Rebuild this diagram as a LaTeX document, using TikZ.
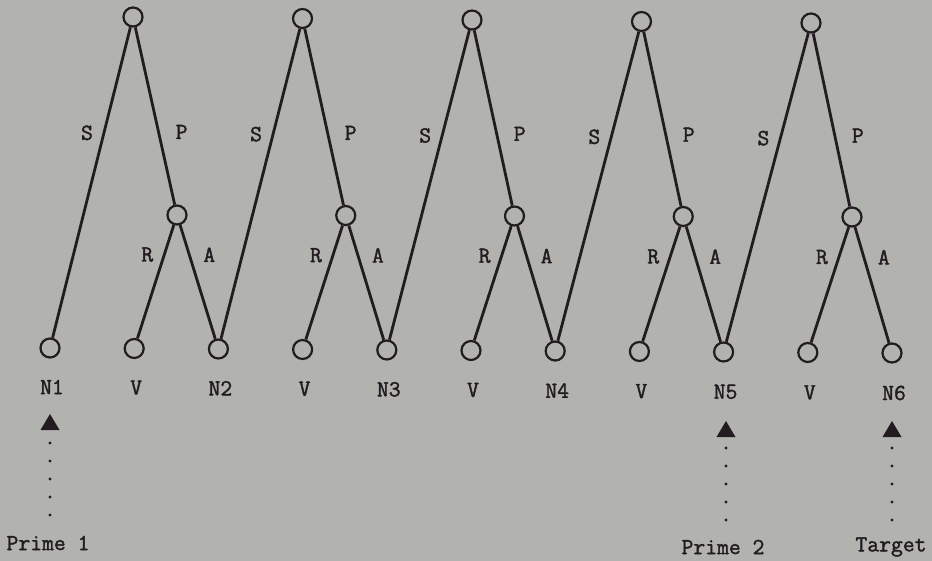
\documentclass[tikz,border=0pt]{standalone}
\usepackage{fontspec}
\newfontfamily\labfont{Latin Modern Mono}[FakeBold=1.6]
\usetikzlibrary{arrows.meta}
\definecolor{bg}{HTML}{B2B2AF}
\definecolor{ink}{HTML}{221C20}
\begin{document}
\begin{tikzpicture}[x=1pt,y=-1pt,
  vert/.style={circle,draw=ink,line width=2.2pt,minimum size=19pt,inner sep=0pt},
  edge/.style={draw=ink,line width=2.8pt},
  lab/.style={font=\fontsize{23}{26}\labfont,text=ink,inner sep=0pt},
  pointer/.style={draw=ink,line width=3.2pt,line cap=round,dash pattern=on 0pt off 18pt,
    -{Triangle[width=19pt,length=16pt,line width=0pt,fill=ink]}},
]
\fill[bg] (0,0) rectangle (932,561);
\useasboundingbox (0,0) rectangle (932,561);
% vertices
\foreach \i in {0,...,4} {
  \node[vert] (t\i) at ({133+169.5*\i},{17+1.5*\i}) {};
  \node[vert] (m\i) at ({177+168.75*\i},{215+0.5*\i}) {};
}
\foreach \j/\txt in {0/N1,1/V,2/N2,3/V,4/N3,5/V,6/N4,7/V,8/N5,9/V,10/N6} {
  \node[vert] (b\j) at ({50+84.2*\j},{348+0.5*\j}) {};
  \node[lab] (l\j) at ({52+84.2*\j},{387+0.6*\j}) {\txt};
}
% edges
\foreach \i [evaluate=\i as \na using {int(2*\i)},
             evaluate=\i as \nb using {int(2*\i+1)},
             evaluate=\i as \nc using {int(2*\i+2)}] in {0,...,4} {
  \draw[edge] (t\i) -- node[lab,pos=.34,xshift=-17pt]{S} (b\na);
  \draw[edge] (t\i) -- node[lab,pos=.59,xshift=23pt]{P} (m\i);
  \draw[edge] (m\i) -- node[lab,pos=.26,xshift=-17pt]{R} (b\nb);
  \draw[edge] (m\i) -- node[lab,pos=.26,xshift=20pt]{A} (b\nc);
}
% primes and target
\node[lab] (prime1) at (48,543) {Prime 1};
\node[lab] (prime2) at (723,547) {Prime 2};
\node[lab] (target) at (891,547) {Target};
\coordinate (s1) at (50,515);  \coordinate (e1) at (50,414);
\coordinate (s2) at (726,520); \coordinate (e2) at (726,421);
\coordinate (s3) at (892,520); \coordinate (e3) at (892,421);
\draw[pointer] (s1) -- (e1);
\draw[pointer] (s2) -- (e2);
\draw[pointer] (s3) -- (e3);
\end{tikzpicture}
\end{document}
